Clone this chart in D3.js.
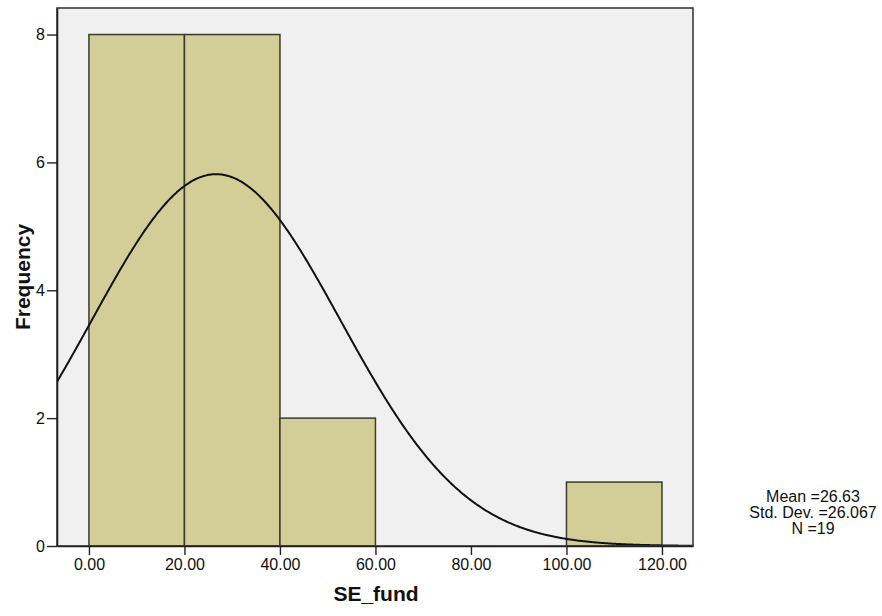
<!DOCTYPE html>
<html>
<head>
<meta charset="utf-8">
<script src="https://cdn.jsdelivr.net/npm/d3@7"></script>
<style>
  html, body { margin: 0; padding: 0; background: #ffffff; }
  svg { display: block; font-family: Arial, "Liberation Sans", sans-serif; }
</style>
</head>
<body>
<svg id="chart" width="882" height="616"></svg>
<script>
// Histogram bins of SE_fund (lower edge, upper edge, count)
const binStarts = [0, 20, 40, 60, 80, 100];
const binEnds   = [20, 40, 60, 80, 100, 120];
const counts    = [8, 8, 2, 0, 0, 1];

// Axis ticks
const xTicks = [0, 20, 40, 60, 80, 100, 120];
const yTicks = [0, 2, 4, 6, 8];

// Descriptive statistics shown beside the plot
const statMean = 26.63;
const statSD = 26.067;
const statN = 19;
const statLabels = ["Mean =26.63", "Std. Dev. =26.067", "N =19"];

const svg = d3.select("#chart");
const plot = { left: 57, top: 8, right: 693, bottom: 546 };

const x = d3.scaleLinear().domain([-6.69, 126.5]).range([plot.left, plot.right]);
const y = d3.scaleLinear().domain([0, 8.415]).range([plot.bottom, plot.top]);

// Plot background
svg.append("rect")
  .attr("x", plot.left).attr("y", plot.top)
  .attr("width", plot.right - plot.left).attr("height", plot.bottom - plot.top)
  .attr("fill", "#f0f0f0");

svg.append("clipPath").attr("id", "clip")
  .append("rect")
  .attr("x", plot.left).attr("y", plot.top)
  .attr("width", plot.right - plot.left).attr("height", plot.bottom - plot.top);

// Bars
const bins = binStarts.map((s, i) => ({ x0: s, x1: binEnds[i], n: counts[i] }));
svg.append("g").selectAll("rect")
  .data(bins.filter(d => d.n > 0))
  .join("rect")
  .attr("x", d => x(d.x0))
  .attr("y", d => y(d.n))
  .attr("width", d => x(d.x1) - x(d.x0))
  .attr("height", d => y(0) - y(d.n))
  .attr("fill", "#d3ce97")
  .attr("stroke", "#3b3a2c")
  .attr("stroke-width", 1.5);

// Fitted normal curve scaled to counts per bin
const binWidth = 20;
const pdfScale = statN * binWidth / (statSD * Math.sqrt(2 * Math.PI));
const curveXs = d3.range(x.domain()[0], x.domain()[1] + 0.25, 0.25);
const line = d3.line()
  .x(v => x(v))
  .y(v => y(pdfScale * Math.exp(-0.5 * Math.pow((v - statMean) / statSD, 2))))
  .curve(d3.curveMonotoneX);
svg.append("path")
  .datum(curveXs)
  .attr("clip-path", "url(#clip)")
  .attr("d", line)
  .attr("fill", "none")
  .attr("stroke", "#111")
  .attr("stroke-width", 2);

// Plot frame
svg.append("rect")
  .attr("x", plot.left).attr("y", plot.top)
  .attr("width", plot.right - plot.left).attr("height", plot.bottom - plot.top)
  .attr("fill", "none")
  .attr("stroke", "#3a3a3a")
  .attr("stroke-width", 1.6);

// Axes
const xAxis = d3.axisBottom(x).tickValues(xTicks).tickFormat(d3.format(".2f"))
  .tickSize(9).tickSizeOuter(0).tickPadding(4);
const yAxis = d3.axisLeft(y).tickValues(yTicks).tickFormat(d3.format("d"))
  .tickSize(10).tickSizeOuter(0).tickPadding(2);

const gx = svg.append("g").attr("transform", `translate(0,${plot.bottom})`).call(xAxis);
const gy = svg.append("g").attr("transform", `translate(${plot.left},0)`).call(yAxis);
[gx, gy].forEach(g => {
  g.select(".domain").attr("stroke", "#222").attr("stroke-width", 1.6);
  g.selectAll(".tick line").attr("stroke", "#222").attr("stroke-width", 1.4);
  g.selectAll(".tick text").attr("fill", "#111").style("font-size", "16px")
    .style("font-family", "Arial, 'Liberation Sans', sans-serif");
});

// Axis titles
svg.append("text")
  .attr("x", (plot.left + plot.right) / 2 + 1)
  .attr("y", 601)
  .attr("text-anchor", "middle")
  .style("font-size", "21px").style("font-weight", "bold")
  .attr("fill", "#111")
  .text("SE_fund");

svg.append("text")
  .attr("transform", `translate(30,${(plot.top + plot.bottom) / 2}) rotate(-90)`)
  .attr("text-anchor", "middle")
  .style("font-size", "21px").style("font-weight", "bold")
  .attr("fill", "#111")
  .text("Frequency");

// Statistics legend
svg.append("g").selectAll("text")
  .data(statLabels)
  .join("text")
  .attr("x", 813)
  .attr("y", (d, i) => 502 + i * 16)
  .attr("text-anchor", "middle")
  .style("font-size", "16px")
  .attr("fill", "#111")
  .text(d => d);
</script>
</body>
</html>
